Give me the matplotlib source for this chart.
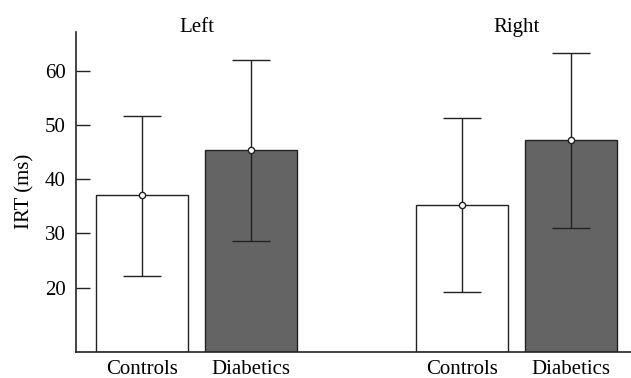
import matplotlib
matplotlib.use("Agg")
import matplotlib.pyplot as plt
import numpy as np

plt.rcParams['font.family'] = ['Liberation Serif', 'DejaVu Serif']

groups = ["Left", "Right"]
categories = ["Controls", "Diabetics"]
means = [37.0, 45.3, 35.3, 47.2]
err_upper = [51.7, 61.9, 51.2, 63.2]
err_lower = [22.2, 28.6, 19.2, 31.0]
yticks = [20, 30, 40, 50, 60]

positions = np.array([0.0, 1.0, 2.93, 3.93])
colors = ["white", "#646464", "white", "#646464"]
ymin, ymax = 8.2, 67.2
fs = 15

fig = plt.figure(figsize=(6.31, 3.78), dpi=100)
ax = fig.add_axes([0.12, 0.0696, 0.88, 0.8466])

means_a = np.array(means)
lo = means_a - np.array(err_lower)
hi = np.array(err_upper) - means_a

ax.bar(positions, means_a - ymin, bottom=ymin, width=0.845, color=colors,
       edgecolor="#222222", linewidth=1.0, zorder=2)
ax.errorbar(positions, means_a, yerr=[lo, hi], fmt='o', color="#222222",
            ecolor="#222222", elinewidth=1.0, capsize=14, capthick=1.0,
            markersize=4.5, markerfacecolor="white", markeredgecolor="#222222",
            markeredgewidth=1.0, zorder=3)

ax.set_xlim(-0.61, 4.48)
ax.set_ylim(ymin, ymax)
ax.set_yticks(yticks)
ax.set_yticklabels([str(t) for t in yticks], fontsize=fs)
ax.tick_params(axis='y', direction='in', length=10, width=1.0, pad=7, colors="#222222")
ax.set_xticks(positions)
ax.set_xticklabels(categories * 2, fontsize=fs)
ax.tick_params(axis='x', length=0, pad=6)
for lab in ax.get_xticklabels() + ax.get_yticklabels():
    lab.set_color("black")

ax.spines['top'].set_visible(False)
ax.spines['right'].set_visible(False)
ax.spines['left'].set_linewidth(1.2)
ax.spines['bottom'].set_linewidth(1.2)
ax.spines['left'].set_color("#222222")
ax.spines['bottom'].set_color("#222222")

ax.set_ylabel("IRT (ms)", fontsize=fs, labelpad=8)

trans = matplotlib.transforms.blended_transform_factory(ax.transData, ax.transAxes)
ax.text(positions[:2].mean(), 1.013, groups[0], transform=trans, ha='center', va='center', fontsize=fs)
ax.text(positions[2:].mean(), 1.013, groups[1], transform=trans, ha='center', va='center', fontsize=fs)

fig.savefig("out.png", dpi=100)
